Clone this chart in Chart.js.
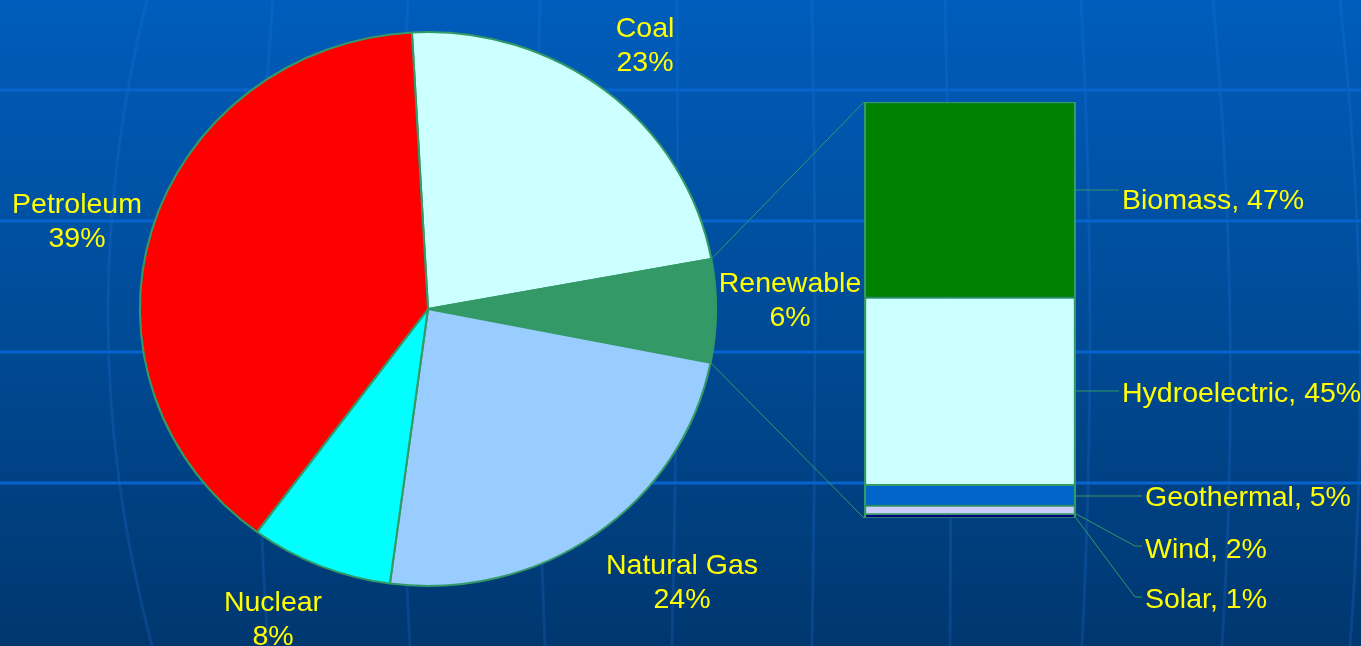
<!DOCTYPE html>
<html>
<head>
<meta charset="utf-8">
<title>Energy sources</title>
<script src="https://cdn.jsdelivr.net/npm/chart.js@4.4.0/dist/chart.umd.min.js"></script>
<style>
	html, body {margin: 0; padding: 0; background: #004a94;}
	#energy-wrap {position: relative; width: 1361px; height: 646px; overflow: hidden;}
	#energy-wrap canvas {position: absolute; left: 0; top: 0;}
</style>
</head>
<body>
<div id="energy-wrap">
	<canvas id="energy-pie" width="1361" height="646"></canvas>
	<canvas id="energy-renew" width="1361" height="646"></canvas>
</div>
<script>
// Energy sources (percent of total)
var sourceNames  = ['Coal', 'Renewable', 'Natural Gas', 'Nuclear', 'Petroleum'];
var sourceShares = [23, 6, 24, 8, 39];

// Breakdown of the renewable slice (percent of renewable)
var renewNames  = ['Biomass', 'Hydroelectric', 'Geothermal', 'Wind', 'Solar'];
var renewShares = [47, 45, 5, 2, 1];

var sourceColors = ['#CCFFFF', '#339966', '#99CCFF', '#00FFFF', '#FF0000'];
var renewColors  = ['#008000', '#CCFFFF', '#0066CC', '#CCCCFF', '#000080'];

var LINE_GREEN = '#339966';
var LABEL_FONT = '28.5px "Liberation Sans", Arial, sans-serif';
var PIE_STRETCH = 1.04;   // pie is drawn slightly wider than tall

// label anchors: centre x / first baseline for pie labels
var pieLabelPos = [
	{x: 645, y: 37},
	{x: 790, y: 292},
	{x: 682, y: 574},
	{x: 273, y: 611},
	{x: 77,  y: 213}
];
// bar labels: text left, baseline, leader line y
var barLabelPos = [
	{x: 1122, y: 209, line: 190},
	{x: 1122, y: 402, line: 391},
	{x: 1145, y: 506, line: 496},
	{x: 1145, y: 558, line: 546},
	{x: 1145, y: 608, line: 597}
];

// globe grid behind everything
var gridRows = [90, 221, 352, 483];
var meridians = [
	[147, 108, 152], [273, 258, 268], [408, 400, 410], [540, 537, 545],
	[677, 677, 672], [812, 815, 812], [945, 950, 950], [1081, 1090, 1082],
	[1213, 1230, 1222], [1340, 1360, 1350]
];

var backgroundPlugin = {
	id: 'globeBackground',
	beforeDraw: function(chart) {
		var ctx = chart.ctx, w = chart.width, h = chart.height;
		ctx.save();
		var grad = ctx.createLinearGradient(0, 0, 0, h);
		grad.addColorStop(0, '#005DBB');
		grad.addColorStop(0.5, '#004B97');
		grad.addColorStop(1, '#00376F');
		ctx.fillStyle = grad;
		ctx.fillRect(0, 0, w, h);

		ctx.strokeStyle = 'rgba(40,125,235,0.2)';
		ctx.lineWidth = 3;
		meridians.forEach(function(m) {
			ctx.beginPath();
			ctx.moveTo(m[0], 0);
			ctx.quadraticCurveTo(2 * m[1] - (m[0] + m[2]) / 2, h / 2, m[2], h);
			ctx.stroke();
		});

		ctx.strokeStyle = '#0664CC';
		ctx.lineWidth = 3;
		gridRows.forEach(function(y) {
			ctx.beginPath();
			ctx.moveTo(0, y);
			ctx.lineTo(w, y);
			ctx.stroke();
		});
		ctx.restore();
	}
};

var stretchPlugin = {
	id: 'pieStretch',
	beforeDatasetsDraw: function(chart) {
		var arc = chart.getDatasetMeta(0).data[0];
		chart.ctx.save();
		chart.ctx.translate(arc.x, arc.y);
		chart.ctx.scale(PIE_STRETCH, 1);
		chart.ctx.translate(-arc.x, -arc.y);
	},
	afterDatasetsDraw: function(chart) {
		chart.ctx.restore();
	}
};

var pieLabelPlugin = {
	id: 'pieLabels',
	afterDraw: function(chart) {
		var ctx = chart.ctx;
		ctx.save();
		ctx.font = LABEL_FONT;
		ctx.fillStyle = '#FFFF00';
		ctx.textAlign = 'center';
		ctx.textBaseline = 'alphabetic';
		for (var i = 0; i < sourceNames.length; i++) {
			ctx.fillText(sourceNames[i], pieLabelPos[i].x, pieLabelPos[i].y);
			ctx.fillText(sourceShares[i] + '%', pieLabelPos[i].x, pieLabelPos[i].y + 34);
		}
		ctx.restore();
	}
};

var pieChart = new Chart(document.getElementById('energy-pie'), {
	type: 'pie',
	data: {
		labels: sourceNames,
		datasets: [{
			data:            sourceShares,
			backgroundColor: sourceColors,
			borderColor:     LINE_GREEN,
			borderWidth:     2,
			radius:          277
		}]
	},
	options: {
		responsive: false,
		animation:  false,
		rotation:   -3.2,
		layout:     {padding: {left: 128, right: 633, top: 19, bottom: 47}},
		plugins:    {legend: {display: false}, tooltip: {enabled: false}}
	},
	plugins: [backgroundPlugin, stretchPlugin, pieLabelPlugin]
});

// lines from the renewable slice to the breakdown bar
var connectorPlugin = {
	id: 'renewConnector',
	afterDraw: function(chart) {
		var arc = pieChart.getDatasetMeta(0).data[1];
		var top = chart.getDatasetMeta(0).data[0];
		var bottom = chart.getDatasetMeta(renewNames.length - 1).data[0];
		var left = top.x - top.width / 2;
		var ctx = chart.ctx;

		function rim(a) {
			return {x: arc.x + Math.cos(a) * arc.outerRadius * PIE_STRETCH, y: arc.y + Math.sin(a) * arc.outerRadius};
		}
		var p1 = rim(arc.startAngle), p2 = rim(arc.endAngle);

		ctx.save();
		ctx.strokeStyle = LINE_GREEN;
		ctx.lineWidth = 1;
		ctx.beginPath();
		ctx.moveTo(p1.x, p1.y);
		ctx.lineTo(left, Math.min(top.y, top.base));
		ctx.moveTo(p2.x, p2.y);
		ctx.lineTo(left, Math.max(bottom.y, bottom.base));
		ctx.stroke();
		ctx.restore();
	}
};

var barLabelPlugin = {
	id: 'renewLabels',
	afterDraw: function(chart) {
		var ctx = chart.ctx;
		ctx.save();
		ctx.font = LABEL_FONT;
		ctx.fillStyle = '#FFFF00';
		ctx.textAlign = 'left';
		ctx.textBaseline = 'alphabetic';
		ctx.strokeStyle = LINE_GREEN;
		ctx.lineWidth = 1;
		for (var i = 0; i < renewNames.length; i++) {
			var bar = chart.getDatasetMeta(i).data[0];
			var segTop = Math.min(bar.y, bar.base), segBottom = Math.max(bar.y, bar.base);
			var right = bar.x + bar.width / 2;
			var pos = barLabelPos[i];
			var startY = Math.max(segTop, Math.min(segBottom, pos.line));

			ctx.beginPath();
			ctx.moveTo(right, startY);
			ctx.lineTo(pos.x - 10, pos.line);
			ctx.lineTo(pos.x - 3, pos.line);
			ctx.stroke();
			ctx.fillText(renewNames[i] + ', ' + renewShares[i] + '%', pos.x, pos.y);
		}
		ctx.restore();
	}
};

var renewChart = new Chart(document.getElementById('energy-renew'), {
	type: 'bar',
	data: {
		labels: ['Renewable'],
		datasets: renewNames.map(function(name, i) {
			return {
				label:              name,
				data:               [renewShares[i]],
				backgroundColor:    renewColors[i],
				borderColor:        LINE_GREEN,
				borderWidth:        {top: 1.5, bottom: 1, left: 2.5, right: 2.5},
				borderSkipped:      false,
				barPercentage:      1,
				categoryPercentage: 1
			};
		})
	},
	options: {
		responsive: false,
		animation:  false,
		layout:     {padding: {left: 864, right: 285, top: 102, bottom: 128}},
		scales: {
			x: {stacked: true, display: false},
			y: {stacked: true, display: false, reverse: true, min: 0, max: 100}
		},
		plugins: {legend: {display: false}, tooltip: {enabled: false}}
	},
	plugins: [connectorPlugin, barLabelPlugin]
});
</script>
</body>
</html>
